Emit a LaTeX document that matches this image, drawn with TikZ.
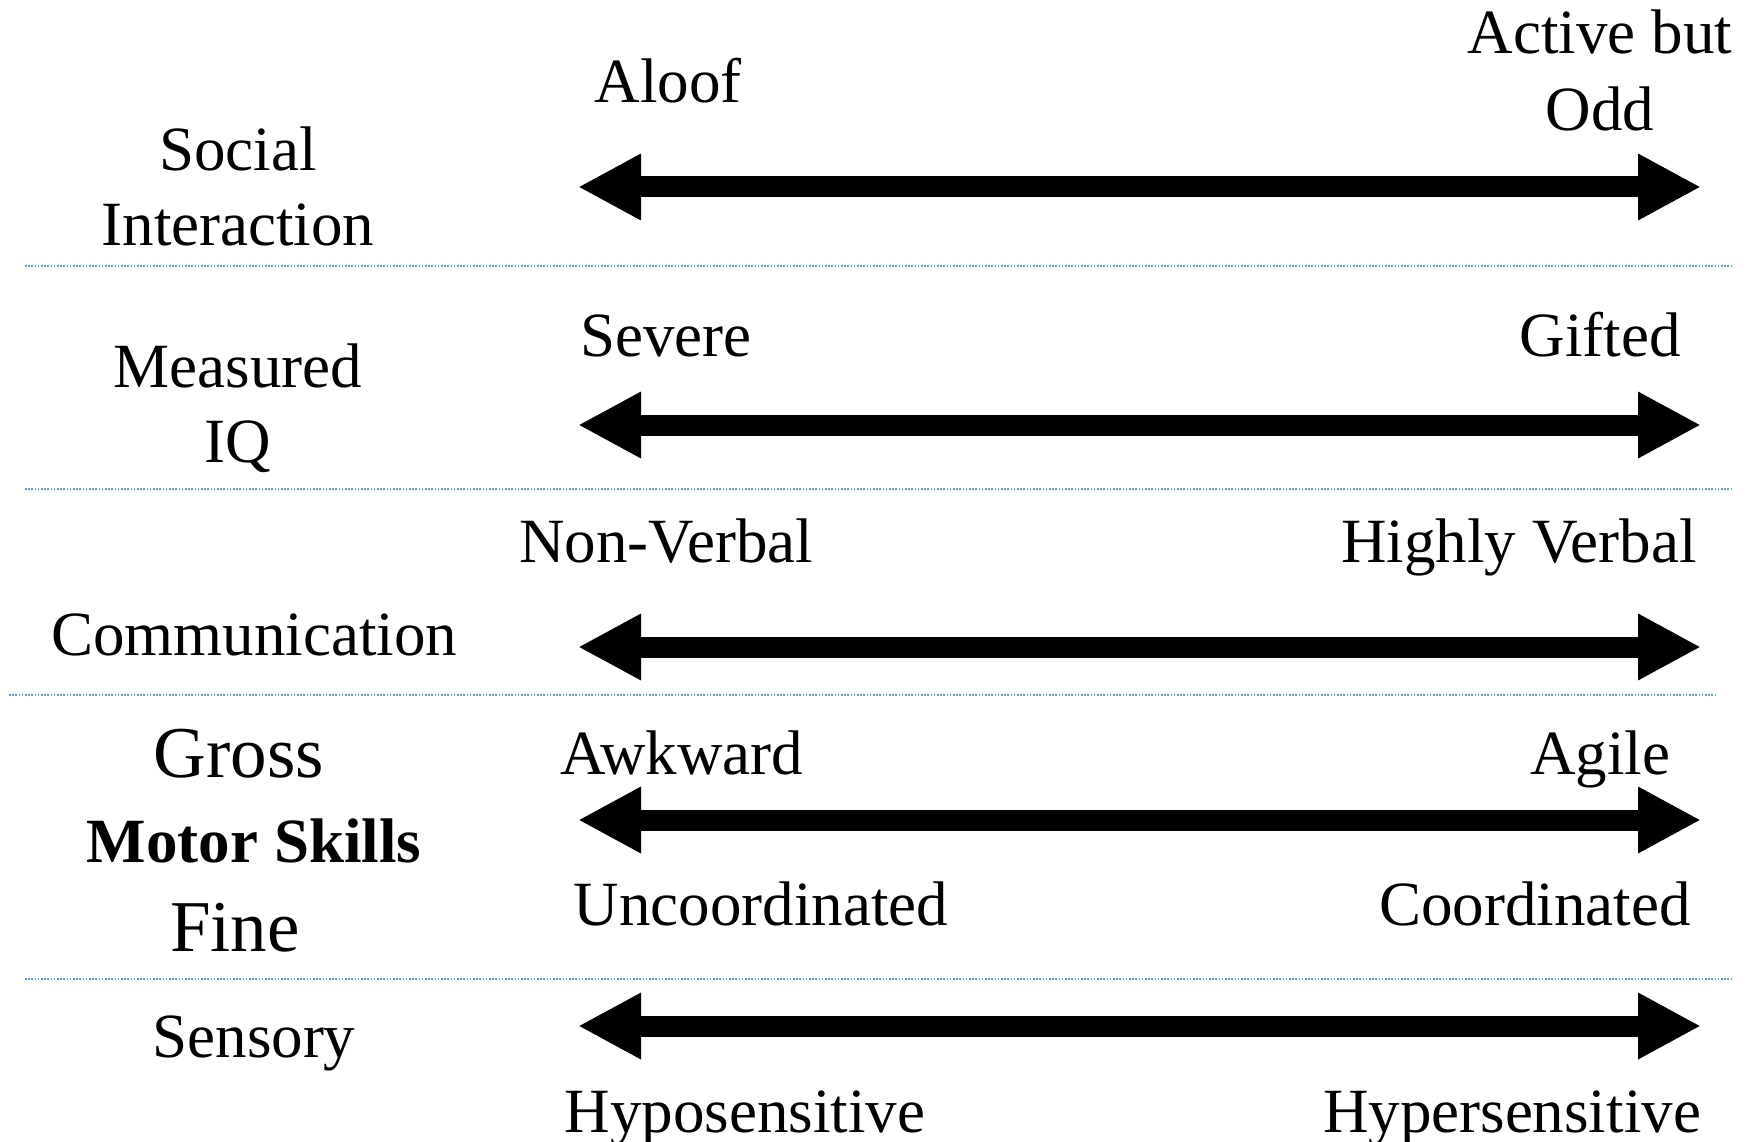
\documentclass[tikz,border=0pt]{standalone}
\usepackage{fontspec}
\setmainfont{Liberation Serif}
\usetikzlibrary{arrows.meta}
\begin{document}
\begin{tikzpicture}[x=1pt,y=-1pt,
  lbl/.style={anchor=base,inner sep=0pt,font=\fontsize{63}{74}\selectfont},
  big/.style={anchor=base,inner sep=0pt,font=\fontsize{73}{86}\selectfont},
  dbl/.style={line width=21pt,{Triangle[length=63pt,width=62pt]}-{Triangle[length=63pt,width=62pt]}},
  sep/.style={draw=blue!40!cyan!70!black!60,color={rgb,255:red,91;green,155;blue,213},line width=1.5pt,dash pattern=on 1.6pt off 1.6pt}]
\useasboundingbox (0,0) rectangle (1754,1142);
% separators
\coordinate (s1a) at (25,266); \coordinate (s1b) at (1732,266);
\coordinate (s2a) at (25,489); \coordinate (s2b) at (1732,489);
\coordinate (s3a) at (9,695); \coordinate (s3b) at (1715,695);
\coordinate (s4a) at (25,979); \coordinate (s4b) at (1732,979);
\draw[sep] (s1a) -- (s1b);
\draw[sep] (s2a) -- (s2b);
\draw[sep] (s3a) -- (s3b);
\draw[sep] (s4a) -- (s4b);
% arrows
\coordinate (a1l) at (578,187); \coordinate (a1r) at (1701,187);
\coordinate (a2l) at (578,425); \coordinate (a2r) at (1701,425);
\coordinate (a3l) at (578,647); \coordinate (a3r) at (1701,647);
\coordinate (a4l) at (578,820); \coordinate (a4r) at (1701,820);
\coordinate (a5l) at (578,1026); \coordinate (a5r) at (1701,1026);
\draw[dbl] (a1l) -- (a1r);
\draw[dbl] (a2l) -- (a2r);
\draw[dbl] (a3l) -- (a3r);
\draw[dbl] (a4l) -- (a4r);
\draw[dbl] (a5l) -- (a5r);
% left labels
\node[lbl] (social) at (238,171) {Social};
\node[lbl] (interaction) at (238,246) {Interaction};
\node[lbl] (measured) at (238,387) {Measured};
\node[lbl] (iq) at (238,462) {IQ};
\node[lbl] (comm) at (254,655) {Communication};
\node[big] (gross) at (239,777) {Gross};
\node[lbl,font=\fontsize{63}{74}\selectfont\bfseries] (motor) at (254,862) {Motor Skills};
\node[big] (fine) at (235,951) {Fine};
\node[lbl] (sensory) at (254,1057) {Sensory};
% right labels
\node[lbl] (aloof) at (668,103) {Aloof};
\node[lbl] (active) at (1600,54) {Active but};
\node[lbl] (odd) at (1600,131) {Odd};
\node[lbl] (severe) at (666,356) {Severe};
\node[lbl] (gifted) at (1600,356) {Gifted};
\node[lbl] (nonverbal) at (666,562) {Non-Verbal};
\node[lbl] (highly) at (1519,562) {Highly Verbal};
\node[lbl] (awkward) at (682,774) {Awkward};
\node[lbl] (agile) at (1600,774) {Agile};
\node[lbl] (uncoord) at (761,925) {Uncoordinated};
\node[lbl] (coord) at (1535,925) {Coordinated};
\node[lbl] (hypo) at (745,1132) {Hyposensitive};
\node[lbl] (hyper) at (1512,1132) {Hypersensitive};
\end{tikzpicture}
\end{document}
